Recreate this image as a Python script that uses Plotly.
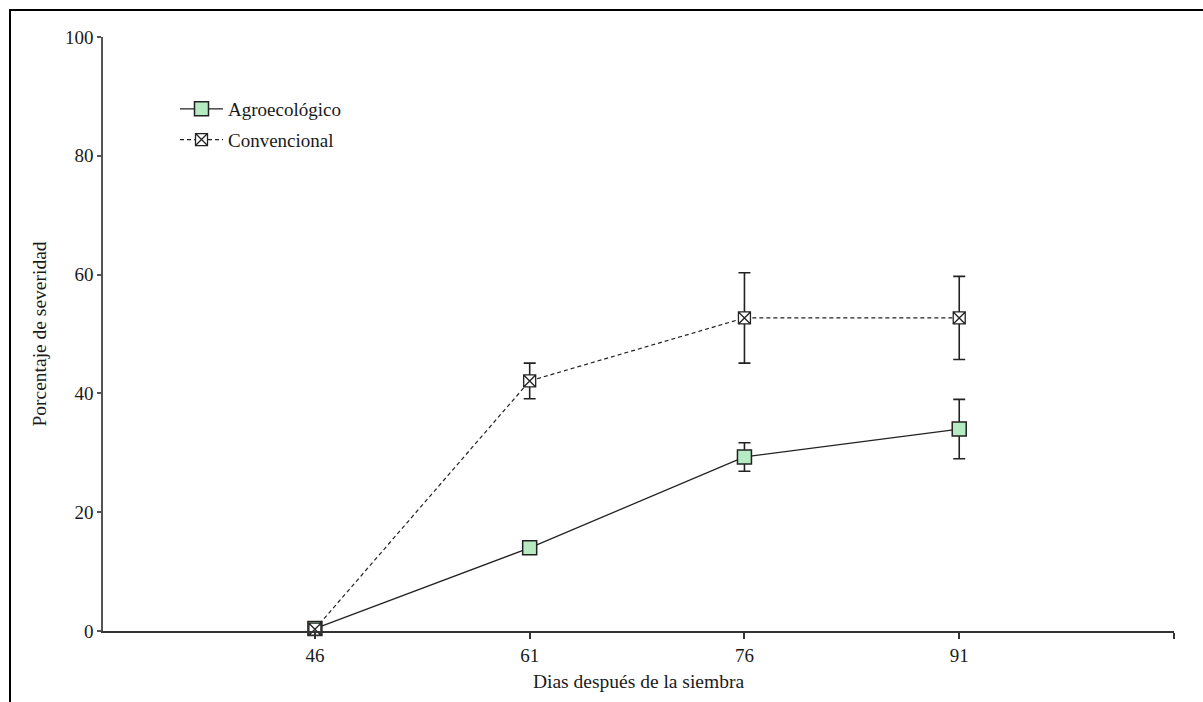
import plotly.graph_objects as go

# Days after sowing and severity (%) with standard errors
dias = [46, 61, 76, 91]
agro_sev = [0.4, 14.0, 29.3, 34.0]
agro_err = [0.0, 0.6, 2.4, 5.0]
conv_sev = [0.3, 42.1, 52.7, 52.7]
conv_err = [0.0, 3.0, 7.6, 7.0]

x_ticks = [46, 61, 76, 91, 106]
x_ticktext = ["46", "61", "76", "91", ""]
y_ticks = [0, 20, 40, 60, 80, 100]

W, H = 1203, 702
ML, MR, MT, MB = 103, 29, 37, 71
PW, PH = W - ML - MR, H - MT - MB

def px_to_paper_x(px):
    return (px - ML) / PW

def px_to_paper_y(py):
    return (H - MB - py) / PH

font_family = "Liberation Serif, Times New Roman, serif"
txt = "#1a1a1a"

fig = go.Figure()

fig.add_trace(go.Scatter(
    x=dias, y=agro_sev, name="Agroecológico", legendgroup="agro",
    mode="lines+markers",
    line=dict(color="#222222", width=1.3),
    marker=dict(symbol="square", size=14, color="#b6eac3",
                line=dict(color="#222222", width=1.5)),
    error_y=dict(type="data", array=agro_err, visible=True,
                 color="#222222", thickness=1.6, width=6),
    cliponaxis=False,
))

fig.add_trace(go.Scatter(
    x=dias, y=conv_sev, name="Convencional", legendgroup="conv",
    mode="lines+markers",
    line=dict(color="#222222", width=1.2, dash="4px,3px"),
    marker=dict(symbol="square-x", size=12, color="white",
                line=dict(color="#222222", width=1.3)),
    error_y=dict(type="data", array=conv_err, visible=True,
                 color="#222222", thickness=1.6, width=6),
    cliponaxis=False,
))

# Outer frame around the figure
fig.add_shape(type="rect", xref="paper", yref="paper",
              x0=px_to_paper_x(10), x1=px_to_paper_x(1215),
              y0=px_to_paper_y(715), y1=px_to_paper_y(10),
              line=dict(color="black", width=2), layer="above")

fig.update_layout(
    width=W, height=H,
    margin=dict(l=ML, r=MR, t=MT, b=MB),
    paper_bgcolor="white", plot_bgcolor="white",
    font=dict(family=font_family, size=19, color=txt),
    showlegend=True,
    legend=dict(x=px_to_paper_x(175), y=px_to_paper_y(90),
                xanchor="left", yanchor="top",
                traceorder="grouped",
                bgcolor="rgba(0,0,0,0)",
                font=dict(family=font_family, size=19, color=txt),
                itemwidth=43, tracegroupgap=3),
    xaxis=dict(range=[31.2, 106], tickvals=x_ticks, ticktext=x_ticktext,
               showgrid=False, zeroline=False,
               showline=True, linecolor="#333333", linewidth=1.5,
               ticks="outside", ticklen=6, tickcolor="#333333", tickwidth=1.5,
               title=dict(text="Dias después de la siembra", standoff=10,
                          font=dict(size=19.5)),
               tickfont=dict(size=19)),
    yaxis=dict(range=[0, 100], tickvals=y_ticks,
               showgrid=False, zeroline=False,
               showline=True, linecolor="#555555", linewidth=1.5,
               ticks="outside", ticklen=4, tickcolor="#555555", tickwidth=1.5,
               title=dict(text="Porcentaje de severidad", standoff=13,
                          font=dict(size=19.5)),
               tickfont=dict(size=19)),
)

fig.write_html("out.html")
